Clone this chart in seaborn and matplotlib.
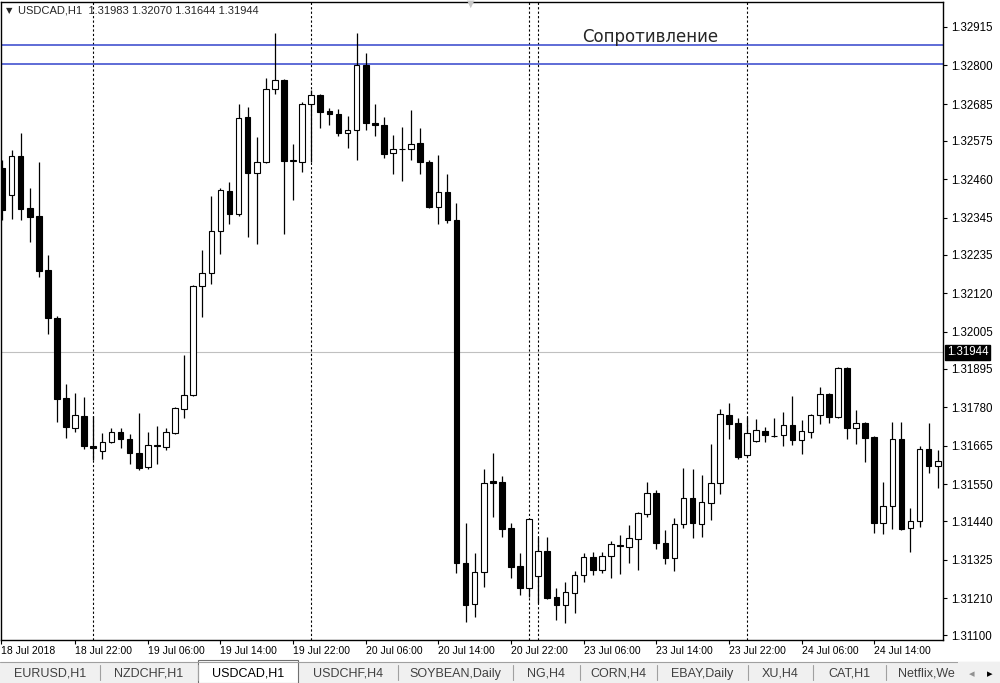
import numpy as np
import pandas as pd
import matplotlib
matplotlib.use("Agg")
import matplotlib.pyplot as plt
import matplotlib.transforms as mtransforms
from matplotlib.patches import Rectangle
import seaborn as sb

# USDCAD H1 candles, 18 Jul 14:00 .. 24 Jul 21:00
opens = [1.32494, 1.32413, 1.32530, 1.32375, 1.32351, 1.32190, 1.32046, 1.31807, 1.31718, 1.31754,
         1.31664, 1.31649, 1.31676, 1.31706, 1.31685, 1.31643, 1.31601, 1.31664, 1.31661, 1.31703,
         1.31775, 1.31816, 1.32142, 1.32181, 1.32306, 1.32425, 1.32357, 1.32646, 1.32479, 1.32512,
         1.32730, 1.32757, 1.32515, 1.32512, 1.32685, 1.32712, 1.32664, 1.32655, 1.32598, 1.32607,
         1.32801, 1.32628, 1.32622, 1.32539, 1.32551, 1.32551, 1.32569, 1.32512, 1.32378, 1.32422,
         1.32339, 1.31315, 1.31193, 1.31288, 1.31560, 1.31557, 1.31419, 1.31306, 1.31240, 1.31276,
         1.31351, 1.31213, 1.31190, 1.31225, 1.31279, 1.31333, 1.31294, 1.31336, 1.31369, 1.31363,
         1.31387, 1.31461, 1.31524, 1.31375, 1.31330, 1.31431, 1.31509, 1.31431, 1.31494, 1.31554,
         1.31757, 1.31733, 1.31637, 1.31679, 1.31709, 1.31694, 1.31697, 1.31727, 1.31682, 1.31706,
         1.31757, 1.31819, 1.31751, 1.31897, 1.31718, 1.31733, 1.31691, 1.31434, 1.31485, 1.31685,
         1.31419, 1.31440, 1.31655, 1.31604]
highs = [1.32518, 1.32548, 1.32598, 1.32434, 1.32512, 1.32234, 1.32052, 1.31849, 1.31822, 1.31810,
         1.31754, 1.31703, 1.31718, 1.31718, 1.31700, 1.31763, 1.31706, 1.31724, 1.31718, 1.31781,
         1.31936, 1.32145, 1.32249, 1.32410, 1.32434, 1.32452, 1.32685, 1.32676, 1.32587, 1.32763,
         1.32897, 1.32760, 1.32566, 1.32691, 1.32727, 1.32715, 1.32673, 1.32670, 1.32649, 1.32897,
         1.32837, 1.32685, 1.32646, 1.32593, 1.32616, 1.32667, 1.32613, 1.32518, 1.32533, 1.32476,
         1.32390, 1.31434, 1.31345, 1.31596, 1.31643, 1.31575, 1.31434, 1.31345, 1.31449, 1.31393,
         1.31393, 1.31240, 1.31258, 1.31291, 1.31345, 1.31348, 1.31348, 1.31381, 1.31398, 1.31428,
         1.31467, 1.31557, 1.31533, 1.31413, 1.31449, 1.31598, 1.31596, 1.31578, 1.31670, 1.31775,
         1.31793, 1.31748, 1.31751, 1.31745, 1.31721, 1.31748, 1.31766, 1.31813, 1.31742, 1.31760,
         1.31840, 1.31822, 1.31900, 1.31900, 1.31772, 1.31736, 1.31694, 1.31557, 1.31736, 1.31736,
         1.31479, 1.31664, 1.31733, 1.31652]
lows = [1.32339, 1.32342, 1.32339, 1.32273, 1.32169, 1.31998, 1.31736, 1.31688, 1.31706, 1.31655,
        1.31622, 1.31625, 1.31673, 1.31658, 1.31610, 1.31593, 1.31596, 1.31610, 1.31652, 1.31700,
        1.31748, 1.31813, 1.32049, 1.32148, 1.32237, 1.32327, 1.32351, 1.32288, 1.32267, 1.32509,
        1.32715, 1.32297, 1.32398, 1.32482, 1.32512, 1.32613, 1.32622, 1.32590, 1.32554, 1.32518,
        1.32607, 1.32590, 1.32524, 1.32476, 1.32455, 1.32518, 1.32476, 1.32375, 1.32327, 1.32330,
        1.31285, 1.31139, 1.31154, 1.31243, 1.31452, 1.31393, 1.31270, 1.31219, 1.31213, 1.31196,
        1.31207, 1.31145, 1.31136, 1.31166, 1.31258, 1.31279, 1.31285, 1.31270, 1.31282, 1.31315,
        1.31294, 1.31452, 1.31357, 1.31312, 1.31291, 1.31419, 1.31390, 1.31393, 1.31443, 1.31521,
        1.31685, 1.31625, 1.31634, 1.31676, 1.31676, 1.31691, 1.31664, 1.31667, 1.31640, 1.31688,
        1.31730, 1.31733, 1.31748, 1.31685, 1.31670, 1.31616, 1.31404, 1.31401, 1.31416, 1.31413,
        1.31348, 1.31422, 1.31584, 1.31539]
closes = [1.32369, 1.32530, 1.32372, 1.32348, 1.32187, 1.32046, 1.31804, 1.31721, 1.31757, 1.31664,
          1.31658, 1.31676, 1.31706, 1.31685, 1.31643, 1.31598, 1.31667, 1.31667, 1.31706, 1.31778,
          1.31816, 1.32142, 1.32181, 1.32306, 1.32428, 1.32357, 1.32643, 1.32479, 1.32512, 1.32730,
          1.32757, 1.32515, 1.32518, 1.32685, 1.32712, 1.32661, 1.32655, 1.32598, 1.32607, 1.32801,
          1.32628, 1.32622, 1.32536, 1.32551, 1.32550, 1.32566, 1.32512, 1.32378, 1.32422, 1.32339,
          1.31315, 1.31190, 1.31288, 1.31554, 1.31554, 1.31416, 1.31303, 1.31240, 1.31446, 1.31351,
          1.31210, 1.31190, 1.31228, 1.31279, 1.31333, 1.31294, 1.31336, 1.31372, 1.31366, 1.31390,
          1.31464, 1.31524, 1.31375, 1.31330, 1.31431, 1.31509, 1.31434, 1.31497, 1.31554, 1.31760,
          1.31730, 1.31631, 1.31703, 1.31712, 1.31697, 1.31694, 1.31727, 1.31682, 1.31709, 1.31757,
          1.31819, 1.31751, 1.31897, 1.31718, 1.31733, 1.31688, 1.31434, 1.31485, 1.31685, 1.31416,
          1.31440, 1.31655, 1.31604, 1.31619]

# levels / markers
resistance = [1.32861, 1.32804]
bid = 1.31944
header = "USDCAD,H1  1.31983 1.32070 1.31644 1.31944"
separators = [10, 34, 58, 59, 82]
time_bars = [8, 16, 24, 32, 40, 48, 56, 64, 72, 80, 88, 96]
time_labels = ["18 Jul 22:00", "19 Jul 06:00", "19 Jul 14:00", "19 Jul 22:00", "20 Jul 06:00",
               "20 Jul 14:00", "20 Jul 22:00", "23 Jul 06:00", "23 Jul 14:00", "23 Jul 22:00",
               "24 Jul 06:00", "24 Jul 14:00"]
price_ticks = [1.32915, 1.32800, 1.32685, 1.32575, 1.32460, 1.32345, 1.32235, 1.32120, 1.32005,
               1.31895, 1.31780, 1.31665, 1.31550, 1.31440, 1.31325, 1.31210, 1.31100]
tabs = ["EURUSD,H1", "NZDCHF,H1", "USDCAD,H1", "USDCHF,H4", "SOYBEAN,Daily", "NG,H4",
        "CORN,H4", "EBAY,Daily", "XU,H4", "CAT,H1"]
tab_edges = [0, 100, 198, 298, 398, 513, 580, 657, 748, 813, 886]

df = pd.DataFrame({"open": opens, "high": highs, "low": lows, "close": closes})
df["bar"] = np.arange(len(df))
df["bottom"] = df[["open", "close"]].min(axis=1)
df["height"] = (df["close"] - df["open"]).abs().clip(lower=0.000004)
up = df[df["close"] > df["open"]]
down = df[df["close"] <= df["open"]]

sb.set_style("white")
plt.rcParams["font.family"] = ["Liberation Sans", "DejaVu Sans"]

W, H = 1000, 683
fig = plt.figure(figsize=(10, 6.83), dpi=100)
ax = fig.add_axes([1 / W, 43 / H, 942 / W, 638 / H])

# separators and levels
for b in separators:
    ax.axvline(b, color="black", lw=0.8, ls=(0, (2, 2)), zorder=1)
for lvl in resistance:
    ax.axhline(lvl, color="#3344cc", lw=1.1, zorder=2)
ax.axhline(bid, color="#c0c0c0", lw=0.8, zorder=1)

# candles
ax.vlines(df["bar"], df["low"], df["high"], color="black", lw=0.9, zorder=3)
ax.bar(up["bar"], up["height"], bottom=up["bottom"], width=0.62, color="white",
       edgecolor="black", lw=0.8, zorder=4)
ax.bar(down["bar"], down["height"], bottom=down["bottom"], width=0.62, color="black",
       edgecolor="black", lw=0.8, zorder=4)

ax.set_xlim(-0.165, 103.58)
ax.set_ylim(1.310851, 1.329895)

# price axis on the right
ax.yaxis.tick_right()
ax.set_yticks(price_ticks)
ax.set_yticklabels([f"{p:.5f}" for p in price_ticks])
ax.tick_params(axis="y", direction="out", length=3, width=0.8, pad=3, labelsize=8.3,
               colors="black", right=True, left=False)
ax.set_xticks([-0.165] + time_bars)
ax.set_xticklabels(["18 Jul 2018"] + time_labels)
ax.tick_params(axis="x", direction="out", length=3, width=0.8, pad=1, labelsize=7.5,
               colors="black", bottom=True)
for lbl in ax.get_xticklabels():
    lbl.set_horizontalalignment("left")
for s in ax.spines.values():
    s.set_color("black")
    s.set_linewidth(1)
ax.grid(False)

# bid price box
trans = mtransforms.blended_transform_factory(ax.transAxes, ax.transData)
ax.text(1.004, bid, f"{bid:.5f}", transform=trans, fontsize=8.3, color="white",
        va="center", ha="left", bbox=dict(boxstyle="square,pad=0.12", fc="black", ec="black"))

# header and annotation
ax.text(0.005, 0.986, "\u25bc", transform=ax.transAxes, fontsize=6, va="center",
        family=["DejaVu Sans"])
ax.text(0.018, 0.986, header, transform=ax.transAxes, fontsize=8, va="center")
ax.text(0.499, 0.997, "\u25bc", transform=ax.transAxes, fontsize=7, va="center",
        ha="center", color="#c8c8c8", family=["DejaVu Sans"])
ax.text(0.617, 0.945, "Сопротивление", transform=ax.transAxes, fontsize=12,
        va="center", family=["DejaVu Sans"])

# tab bar
fig.patches.append(Rectangle((0, 0), 1, 21 / H, transform=fig.transFigure,
                             fc="#f0f0f0", ec="none", zorder=0))
fig.lines.append(plt.Line2D([0, 1], [21 / H, 21 / H], transform=fig.transFigure,
                            color="#a0a0a0", lw=0.8))
for i, name in enumerate(tabs):
    x0, x1 = tab_edges[i], tab_edges[i + 1]
    if name == "USDCAD,H1":
        fig.patches.append(Rectangle((x0 / W, 0), (x1 - x0) / W, 23 / H,
                                     transform=fig.transFigure, fc="white",
                                     ec="#707070", lw=0.8, zorder=1))
        col = "black"
    else:
        fig.lines.append(plt.Line2D([x1 / W, x1 / W], [3 / H, 18 / H],
                                    transform=fig.transFigure, color="#a0a0a0", lw=0.8))
        col = "#404040"
    fig.text((x0 + x1) / 2 / W, 9 / H, name, fontsize=9, color=col,
             ha="center", va="center", zorder=2)
fig.text(898 / W, 9 / H, "Netflix,We", fontsize=9, color="#404040", va="center")
fig.patches.append(Rectangle((958 / W, 0), 42 / W, 21 / H, transform=fig.transFigure,
                             fc="#f0f0f0", ec="none", zorder=3))
fig.text(972 / W, 9 / H, "\u25c2", fontsize=8, color="#909090", va="center",
         ha="center", family=["DejaVu Sans"], zorder=4)
fig.text(990 / W, 9 / H, "\u25b8", fontsize=8, color="black", va="center",
         ha="center", family=["DejaVu Sans"], zorder=4)

fig.savefig("out.png", dpi=100)
